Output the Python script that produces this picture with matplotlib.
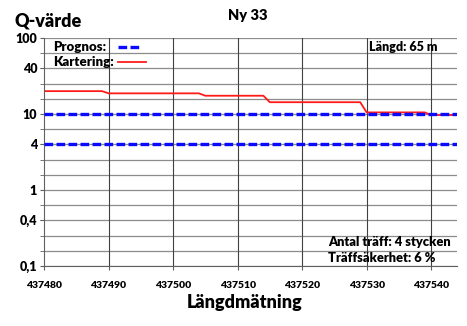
import numpy as np
import matplotlib.pyplot as plt
from matplotlib.ticker import FixedLocator, FixedFormatter, NullFormatter

plt.rcParams['font.family'] = ['Lato', 'DejaVu Sans']
W = 'heavy'

# data
kart_x = [437480, 437489, 437490, 437504, 437505, 437514, 437515,
          437529, 437530, 437539, 437540, 437544]
kart_q = [20, 20, 18.7, 18.7, 17.4, 17.4, 14.3, 14.3, 10.5, 10.5, 9.7, 9.7]
prognos_levels = [10, 4]
y_ticks = [100, 40, 10, 4, 1, 0.4, 0.1]
y_labels = ['100', '40', '10', '4', '1', '0,4', '0,1']
x_ticks = [437480, 437490, 437500, 437510, 437520, 437530, 437540]

fig = plt.figure(figsize=(4.67, 3.26), dpi=100)
ax = fig.add_axes([0.0942, 0.184, 0.8844, 0.6994])

ax.set_yscale('log')
ax.set_ylim(0.1, 100)
ax.set_xlim(437480, 437544)

# horizontal grid every 0.2 decade
grid_y = 10 ** np.arange(-1, 2.01, 0.2)
ax.yaxis.set_major_locator(FixedLocator(y_ticks))
ax.yaxis.set_major_formatter(FixedFormatter(y_labels))
ax.yaxis.set_minor_locator(FixedLocator(grid_y))
ax.yaxis.set_minor_formatter(NullFormatter())
for v in grid_y:
    ax.axhline(v, color='#8c8c8c', lw=0.9, zorder=0)
ax.xaxis.set_major_locator(FixedLocator(x_ticks))
for v in x_ticks[1:]:
    ax.axvline(v, color='#404040', lw=0.8, zorder=0)

blue = '#0a0aff'
red = '#ff1a1a'
for lvl in prognos_levels:
    ax.plot([437480, 437544], [lvl, lvl], color=blue, lw=2.4,
            dashes=(2.6, 1.0), zorder=3)
ax.plot(kart_x, kart_q, color=red, lw=1.3, zorder=2)

for s in ['top', 'right']:
    ax.spines[s].set_visible(False)
ax.spines['left'].set_color('#606060')
ax.spines['bottom'].set_color('#606060')
ax.tick_params(axis='y', which='major', labelsize=9, length=3,
               color='#606060', pad=2)
ax.tick_params(axis='y', which='minor', length=3, color='#606060')
ax.tick_params(axis='x', which='major', labelsize=7.5, length=3,
               color='#606060', pad=8)
for lab in ax.get_xticklabels() + ax.get_yticklabels():
    lab.set_fontweight(W)

# legend
ax.plot([0.179, 0.232], [0.96, 0.96], transform=ax.transAxes,
        color=blue, lw=2.4, dashes=(2.6, 1.0))
ax.plot([0.179, 0.248], [0.895, 0.895], transform=ax.transAxes,
        color=red, lw=1.3)
ax.text(0.022, 0.96, 'Prognos:', transform=ax.transAxes, fontsize=9.5,
        fontweight=W, va='center')
ax.text(0.022, 0.895, 'Kartering:', transform=ax.transAxes, fontsize=9.5,
        fontweight=W, va='center')

ax.text(0.952, 0.962, 'Längd: 65 m', transform=ax.transAxes, fontsize=9,
        fontweight=W, va='center', ha='right')
ax.text(0.688, 0.104, 'Antal träff: 4 stycken', transform=ax.transAxes,
        fontsize=9.3, fontweight=W, va='center', ha='left')
ax.text(0.688, 0.037, 'Träffsäkerhet: 6 %', transform=ax.transAxes,
        fontsize=9.3, fontweight=W, va='center', ha='left')

fig.text(0.03, 0.935, 'Q-värde', fontsize=13, fontweight=W, va='center')
fig.text(0.53, 0.952, 'Ny 33', fontsize=10.5, fontweight=W,
         va='center', ha='center')
fig.text(0.523, 0.072, 'Längdmätning', fontsize=13, fontweight=W,
         va='center', ha='center')

fig.savefig('out.png', dpi=100)
